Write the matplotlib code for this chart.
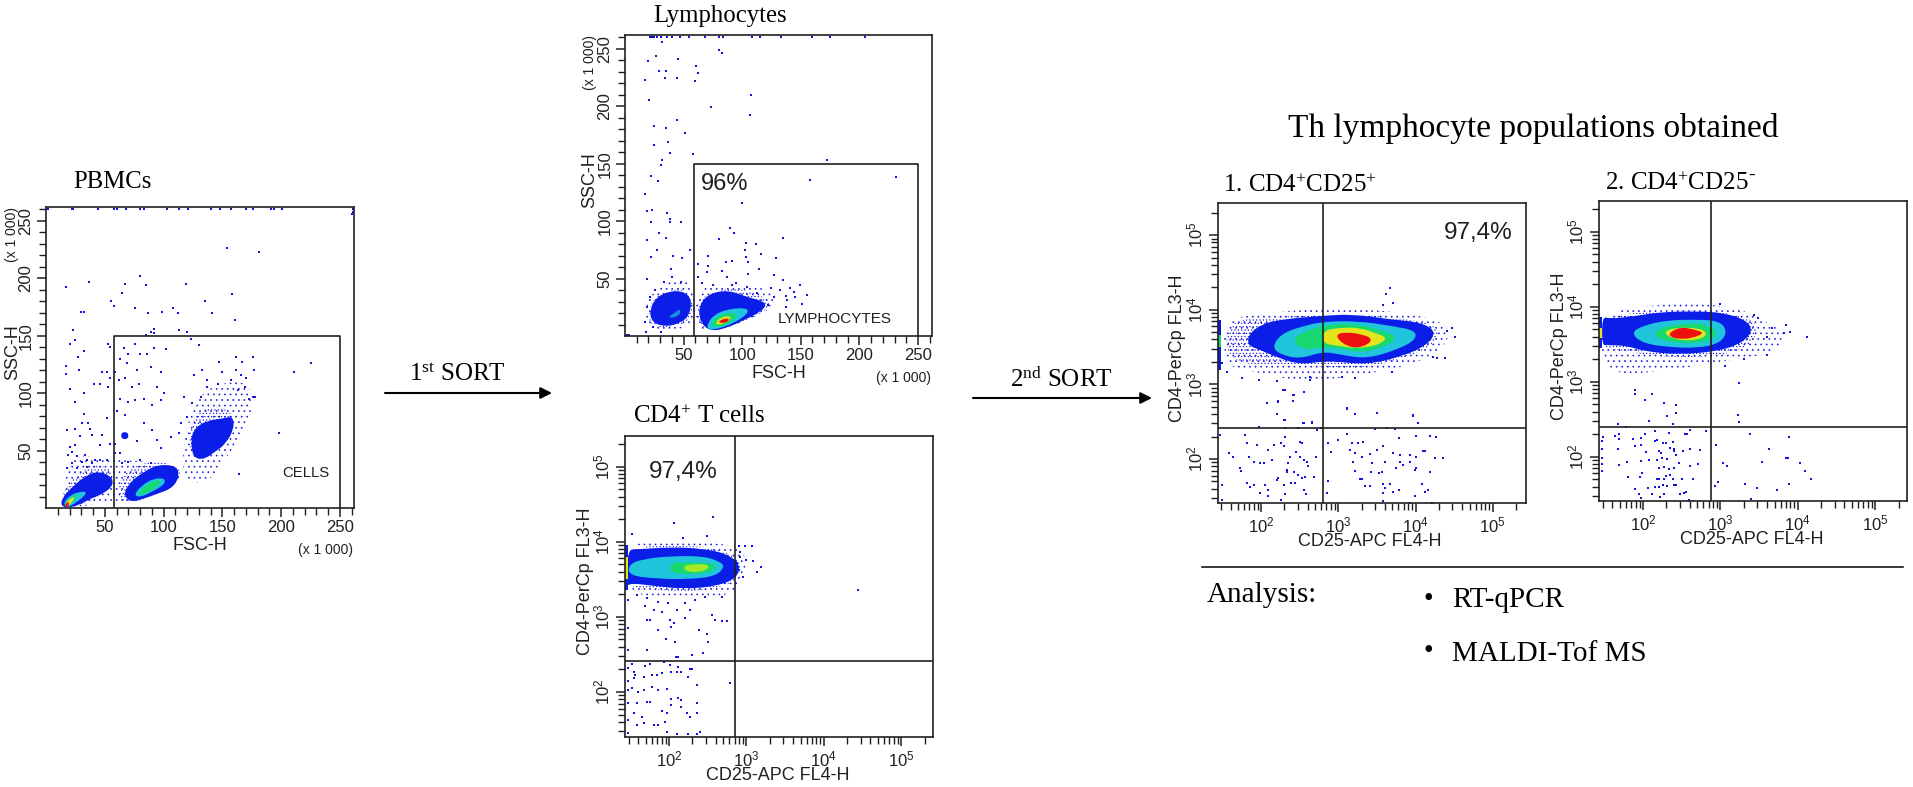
import numpy as np
import matplotlib
matplotlib.use('Agg')
import matplotlib.pyplot as plt
from matplotlib.path import Path
from matplotlib.patches import PathPatch
from matplotlib.ticker import FixedLocator, LogLocator, NullFormatter, FuncFormatter

W, H = 1913, 787
SANS = 'Liberation Sans'
SERIF = 'Liberation Serif'
DOT = '#1414e0'
COLORS = {'blue': '#0a1ee8', 'teal': '#1c8ce0', 'cyan': '#20c4dc', 'green': '#18d870',
          'lime': '#a8e828', 'yellow': '#e4e41c', 'red': '#ee1010'}

plt.rcParams['hatch.linewidth'] = 0.45

# Panel A, FSC-H / SSC-H in thousands
a_top = [2, 22, 23, 44, 58, 60, 68, 80, 83, 103, 113, 121, 140, 148, 157, 170, 176, 191, 194, 201]
a_dots = [(154, 226), (181, 223), (80, 202), (37, 197), (67.5, 195), (85, 194), (119, 195), (17, 192), (65, 187),
          (158, 186), (135, 180), (55, 180), (58, 176), (75.5, 174), (30, 171), (32, 171), (87, 170), (99, 171),
          (108, 174), (112.5, 170), (141.6, 170), (161, 164), (23, 155), (92, 156), (113, 155), (120, 153), (85, 151),
          (89, 153), (92, 152), (20.5, 143), (24.8, 146), (26.8, 131.6), (32, 137), (17, 124), (17, 117), (28, 120),
          (53, 143), (54.7, 140), (66, 139), (70, 134), (75.5, 143), (80, 134), (92, 139), (102, 138), (123, 147),
          (130, 142), (86, 134), (63, 130), (59, 118), (69, 126), (77.5, 120), (89, 123), (97.5, 118), (52, 118),
          (47.6, 118), (46, 108), (40.5, 108), (20.5, 104), (24.8, 92), (32, 100), (54.7, 113), (53, 105), (62, 111),
          (67.5, 113), (73, 105), (79, 108), (63, 95), (70, 92), (76, 94), (83, 95), (94.6, 105), (100, 100),
          (97.5, 94), (90, 90), (67.5, 81), (60, 84), (52, 78), (32, 82), (30.5, 74), (36, 74), (37.6, 69), (24.8, 69),
          (17.7, 68), (29, 63), (39, 63.5), (47.6, 63.5), (54.7, 56), (59, 56), (46, 55), (25, 55), (20.5, 53), (22, 49),
          (19, 46), (33, 46), (35, 42), (26, 45), (30.5, 40), (39, 39), (46, 42), (22, 39), (17.7, 34.5), (26, 34.5),
          (35, 36), (42, 42), (52, 42), (59, 47.5), (65, 39), (63, 47.5), (70, 40), (80, 42), (89, 39), (94.6, 59),
          (83, 73.6), (90, 68), (77.5, 58), (97.5, 52), (106, 62), (113, 65), (117, 97), (126, 116), (133, 120),
          (147, 127), (150, 118), (161.5, 131.6), (176, 131.6), (167, 127), (177, 120), (161.5, 120), (225.6, 126),
          (211, 118.6), (198.6, 65), (164, 30), (137, 111), (146, 108), (157, 111), (166, 116), (170, 113), (176, 97),
          (178, 97), (173, 95), (169, 105), (163, 103), (137, 105), (132, 97), (124.5, 91), (120, 79), (114.5, 73.6),
          (261, 258), (261, 260), (260, 256)]
a_halos = [[(116, 27), (117.5, 65), (129, 97), (146, 108), (170, 111), (177, 94), (170, 68), (152, 42), (140, 24), (126, 21)],
           [(16, 27), (22, 44.6), (37.6, 46), (52, 41.7), (74.6, 41.7), (94.6, 38.8), (114.5, 33), (114.5, 24.3),
            (89, 12.8), (74.6, 5.5), (54.7, 5.5), (29, 1.2), (14.8, 0)]]
a_dense = [[(121.7, 53), (123, 73.6), (134.6, 88), (154.5, 87), (160, 76.5), (157.4, 65), (143, 49), (131.6, 41.7), (124.5, 44.6)],
           [(62, 8), (62, 25), (75, 37), (95, 41), (113, 36), (115, 26), (100, 15), (85, 8), (72, 4)],
           [(12, 2), (16, 18), (30, 32), (42, 38), (56, 34), (58, 20), (45, 10), (30, 2)]]
a_levels = [('blue', [(12.5, 2), (14, 9), (21, 17), (31, 26), (41.9, 32), (54, 29), (58, 21), (50, 13), (37.6, 8), (29, 3), (19, 0)]),
            ('cyan', [(14.8, 4), (19, 9.9), (27.6, 14.2), (35.3, 14.2), (30.5, 8.4), (23.4, 3.2), (17.7, 0.3)]),
            ('green', [(15.4, 3.5), (20, 8.4), (27.6, 12.8), (25.6, 8.4), (20.5, 3.5), (17.1, 0.6)]),
            ('yellow', [(16.2, 4), (21, 8.4), (24.8, 9.9), (21.9, 4.6), (18.5, 1.2)]),
            ('red', [(15.5, 2), (19.5, 6.5), (19.5, 0.5)]),
            ('blue', [(65.5, 12), (72, 23), (83, 31.5), (96, 38), (112, 36.5), (113, 26), (107, 17), (95, 12.5), (83, 8), (72, 5)]),
            ('cyan', [(74.6, 11.3), (81.8, 20), (91.7, 25.8), (101.7, 25.8), (100.3, 20), (90.3, 14.2), (80.3, 9.3)]),
            ('green', [(76.9, 11.3), (83.8, 19.1), (93.2, 24.3), (98, 23.8), (94.6, 18.6), (86, 12.8)]),
            ('blue', [(123, 60), (127, 70), (137, 76), (151, 78), (159, 80), (160, 69), (153, 56), (144, 49), (134, 42), (125, 44)]),
            ('blue', [(64, 60), (64, 66), (70, 66), (70, 60)])]

# Panel B
b_top = [21, 23, 25, 27, 31, 36, 40, 47, 55, 68, 80, 84, 108, 115, 133, 160, 175, 205]
b_dots = [(31.3, 256), (80.6, 249), (82.6, 246), (26.5, 244), (45, 241), (19.4, 239), (60.4, 235), (62.7, 229), (29, 231),
          (34.8, 231), (34, 225), (44, 225), (60, 222), (17.4, 223), (107.7, 210), (20.8, 205), (73, 199), (107, 192),
          (44, 188), (25, 183), (35, 181), (51, 177), (37, 169), (25, 166), (38.5, 159), (58, 158), (32, 153), (30.5, 149),
          (22, 139), (28, 135), (17.4, 124), (18.5, 109), (23, 110), (35.6, 107), (38, 102), (22, 99), (38.5, 99), (48, 99),
          (29, 90), (35, 85), (172, 153), (158, 135.6), (231, 138), (99.7, 116), (90, 94), (93, 90), (80, 84), (103, 81),
          (112, 80), (135, 85), (102.5, 75), (116, 71), (71, 70), (55.6, 75), (48.4, 68), (40.7, 70), (27.6, 75), (22, 69),
          (18.5, 83.5), (35, 85), (18.5, 50), (39, 58), (62, 62.6), (71, 61), (86, 64), (103, 69), (129, 67.5), (70, 56),
          (82.6, 57), (105, 64), (91, 65), (114, 58), (127, 53), (62, 51.6), (87, 51), (105, 53.6), (95, 46), (135, 48.7),
          (149, 44), (141, 41.4), (155, 35.6), (151, 28), (145, 34), (138, 31), (132.5, 40), (125, 41.4), (137, 35),
          (144, 38.6), (127, 34), (137, 25.5), (122, 27), (112.6, 37), (104, 43), (91, 44), (75, 44), (65.5, 46), (40, 51.6),
          (48, 47), (33, 47), (25.6, 40), (21.4, 34), (19, 25.5), (17, 12.5), (17.7, 3.8), (31, 3.8), (24, 8), (1.4, 1), (3.4, 1)]
b_halos = [[(17, 19.7), (21, 35.6), (37, 48.7), (55.6, 50), (60, 34), (60, 8), (33, 5), (18.5, 8)],
           [(60, 8), (61, 43), (92.6, 46), (115, 43), (132.5, 34), (124, 22.6), (101, 12.5), (75.5, 3.8), (67, 3.8)]]
b_dense = [[(19, 12), (23, 33), (37, 40), (52, 41), (58, 30), (57, 14), (45, 9), (30, 7)],
           [(62, 8), (62, 30), (75, 39), (95, 42), (112, 37), (125, 30), (118, 20), (100, 12), (80, 5)]]
b_levels = [('blue', [(21, 22), (26, 33), (37, 39), (50, 39), (57, 32), (55, 18), (47, 11), (34, 8), (23, 12)]),
            ('teal', [(37, 16.8), (42.7, 20.3), (47, 24), (47, 18.3), (40, 15.4)]),
            ('blue', [(64, 12), (63, 27), (72, 37), (88, 40), (104, 34), (122, 29), (116, 21), (102, 14), (87, 7), (73, 4)]),
            ('cyan', [(70, 9.6), (75.5, 18.3), (88, 23.5), (104, 24.6), (105.4, 19.7), (92.6, 11), (78.3, 5.8), (71, 5.8)]),
            ('green', [(73, 10.4), (78.3, 16.8), (88.3, 20.6), (96.9, 19), (91, 11.6), (78.3, 7.2)]),
            ('yellow', [(77, 11.6), (82.6, 16.8), (91, 17.4), (88.3, 12.5), (79.8, 9.3)]),
            ('red', [(80, 13.5), (89, 16), (88, 12), (81, 11)])]

# Panel C, positions as log10 of CD25 / CD4
c_dots = [(2.9, 3.94), (2.98, 3.94), (3.07, 3.94), (2.92, 3.8), (3, 3.76), (3.09, 3.74), (3.19, 3.66), (3.13, 3.6), (2.9, 3.63),
          (2.96, 3.53), (4.44, 3.36), (2.88, 3.72), (2.92, 3.87), (2.57, 4.33), (2.06, 4.25), (1.52, 4.11), (2.49, 4.08),
          (2.18, 4.05), (1.47, 3.23), (1.58, 3.29), (1.71, 3.25), (1.86, 3.2), (1.99, 3.18), (2.21, 3.18), (2.34, 3.23),
          (2.47, 3.27), (2.68, 3.27), (1.69, 3.14), (1.8, 3.09), (1.91, 3.07), (2.1, 3.09), (2.27, 3.09), (2.21, 2.98),
          (2.55, 3.03), (2.59, 2.96), (2.68, 2.94), (2.75, 2.94), (1.71, 2.96), (1.75, 2.96), (2.01, 2.96), (2.06, 2.92),
          (1.47, 2.85), (1.86, 2.83), (2.03, 2.87), (2.38, 2.83), (2.49, 2.77), (1.96, 2.71), (2.08, 2.67), (2.5, 2.67),
          (1.72, 2.56), (1.47, 2.56), (2.44, 2.52), (2.09, 2.47), (2.12, 2.47), (2.29, 2.49),
          (1.52, 2.37), (1.47, 2.32), (1.54, 2.27), (1.69, 2.35), (1.75, 2.37), (1.93, 2.4), (2.01, 2.36), (2.12, 2.33),
          (2.27, 2.31), (2.29, 2.31), (1.56, 2.23), (1.67, 2.2), (1.78, 2.23), (1.84, 2.23), (1.91, 2.25), (2.03, 2.26),
          (2.1, 2.26), (2.16, 2.26), (2.25, 2.2), (1.54, 2.18), (1.47, 2.14), (2.36, 2.09), (2.79, 2.12), (1.52, 2.05),
          (1.47, 2.03), (1.6, 2), (1.67, 2.02), (1.78, 2.07), (1.86, 2.03), (1.97, 2.04), (1.71, 1.87), (1.75, 1.87),
          (1.47, 1.85), (1.58, 1.85), (2.03, 1.9), (2.12, 1.92), (2.16, 1.89), (2.03, 1.83), (2.16, 1.8), (2.36, 1.85),
          (1.91, 1.74), (1.97, 1.72), (2.23, 1.72), (1.47, 1.63), (1.58, 1.56), (1.67, 1.59), (1.8, 1.56), (1.86, 1.56),
          (1.95, 1.6), (1.54, 1.72), (2.36, 1.72), (2.27, 1.67), (1.47, 1.45), (1.97, 1.47), (2.1, 1.44), (2.25, 1.44),
          (2.36, 1.44), (2.4, 1.47), (1.65, 1.67)]
c_halos = [[(1.46, 3.99), (2.01, 4.03), (2.53, 3.99), (2.96, 3.93), (3.01, 3.59), (2.79, 3.27), (2.23, 3.23), (1.72, 3.27), (1.46, 3.36)]]
c_dense = [[(1.47, 3.4), (1.47, 3.93), (2.0, 3.95), (2.6, 3.93), (2.93, 3.75), (2.9, 3.5), (2.6, 3.37), (2.1, 3.33), (1.7, 3.38)]]
c_levels = [('blue', [(1.46, 3.4), (1.46, 3.9), (1.6, 3.9), (2.01, 3.93), (2.44, 3.91), (2.75, 3.84), (2.92, 3.7), (2.88, 3.52),
                      (2.62, 3.41), (2.18, 3.37), (1.75, 3.42), (1.5, 3.45)]),
            ('cyan', [(1.48, 3.7), (1.66, 3.77), (2.01, 3.81), (2.44, 3.81), (2.65, 3.74), (2.72, 3.67), (2.6, 3.54), (2.23, 3.5),
                      (1.84, 3.51), (1.48, 3.55)]),
            ('green', [(2.01, 3.72), (2.27, 3.73), (2.53, 3.72), (2.63, 3.67), (2.53, 3.59), (2.23, 3.56), (2.01, 3.6)]),
            ('lime', [(2.18, 3.69), (2.44, 3.71), (2.53, 3.67), (2.44, 3.6), (2.21, 3.6)])]
c_streak = [('blue', 3.36, 3.96), ('yellow', 3.5, 3.8)]

# Panel D
d_dots = [(1.56, 3.17), (1.49, 3.28), (1.75, 3.09), (1.97, 3.06), (2.2, 3.04), (2.31, 2.92), (2.42, 2.86), (2.55, 2.9), (2.41, 2.78),
          (2.22, 2.78), (2.07, 2.75), (2.2, 2.6), (2.3, 2.52), (2.55, 2.48), (2.66, 2.5), (3.11, 2.67), (3.22, 2.6), (3.5, 2.62),
          (3.97, 2.58), (4.03, 2.48), (1.97, 2.43), (2.31, 2.42), (2.48, 2.42), (2.72, 2.39), (2.78, 2.41), (3.47, 2.4), (3.63, 2.41),
          (3.73, 2.4), (1.47, 2.32), (1.79, 2.32), (1.81, 2.21), (1.95, 2.19), (1.58, 2.08), (1.63, 2.03), (1.73, 1.88), (1.74, 1.84),
          (1.84, 2.02), (1.91, 1.96), (1.98, 1.95), (2.04, 1.95), (2.09, 2.12), (2.16, 2.19), (2.14, 1.99), (2.25, 2.21), (2.31, 2.3),
          (2.29, 2.17), (2.37, 2.03), (2.45, 2.1), (2.5, 2.23), (2.53, 2.21), (2.5, 2.03), (2.55, 1.99), (2.59, 1.96), (2.61, 1.9),
          (2.35, 1.95), (2.34, 1.85), (2.42, 1.83), (2.48, 1.79), (2.53, 1.75), (2.57, 1.76), (2.22, 1.74), (2.2, 1.72), (2.33, 1.83),
          (2.29, 1.65), (2.38, 1.68), (2.44, 1.68), (2.55, 1.59), (2.58, 1.53), (2.31, 1.53), (2.09, 1.5), (2.09, 1.58), (2.05, 1.65),
          (1.9, 1.65), (1.81, 1.68), (1.86, 1.63), (1.99, 1.55), (2.25, 1.45), (1.49, 1.65), (1.49, 1.45), (2.68, 1.76), (2.71, 2.03),
          (2.87, 2.21), (3, 2.26), (3.11, 2.34), (3.17, 2.21), (3.26, 2.22), (3.32, 2.23), (3.15, 2.12), (3.22, 2.08), (3.3, 2.02),
          (3.41, 2.07), (3.5, 2.12), (3.58, 2.17), (2.91, 2.1), (2.87, 1.71), (2.85, 1.55), (3.19, 1.96), (3.22, 1.84), (3.43, 1.95),
          (3.42, 1.83), (3.52, 1.81), (3.56, 1.83), (3.6, 1.96), (3.71, 2.08), (3.8, 2.05), (3.8, 1.96), (3.93, 2.05), (4.01, 2.02),
          (3.93, 1.96), (3.84, 1.92), (3.75, 1.88), (3.58, 1.67), (3.67, 1.67), (3.6, 1.61), (3.71, 1.56), (3.78, 1.58), (3.28, 1.73),
          (3.3, 1.73), (3.34, 1.64), (3.41, 1.64), (3.58, 1.55), (3.58, 1.44), (3.99, 1.5), (3.93, 1.41), (4.21, 1.41), (4.08, 1.67),
          (4.12, 1.56), (4.16, 1.58), (4.01, 1.88), (3.99, 1.85), (4.19, 1.83), (4.25, 2.01), (4.36, 2.01), (4.27, 2.3), (4.19, 2.31),
          (4, 2.31), (3.78, 2.28), (4.1, 2.11), (4.12, 2.11), (3.67, 4.29), (3.62, 4.21), (3.71, 4.09), (3.58, 4.06), (4.51, 3.64),
          (4.47, 3.76), (4.41, 3.72), (4.38, 3.35), (4.28, 3.35), (4.22, 3.36), (2.41, 2.86), (2.08, 2.75), (2.22, 2.76), (2.28, 2.92),
          (2.63, 3.06), (2.63, 3.1), (3.05, 3.1), (3.22, 3.08), (3.69, 3.16), (3.11, 2.68), (3.22, 2.6), (3.5, 2.61), (3.97, 2.59),
          (4.03, 2.48), (2.66, 2.48), (2.54, 2.48), (2.31, 2.52)]
d_halos = [[(1.5, 3.86), (2, 3.95), (2.8, 4.02), (3.67, 3.99), (4.32, 3.86), (4.47, 3.66), (4.25, 3.39), (3.8, 3.22), (3.02, 3.08),
            (2.5, 3.03), (1.99, 3.16), (1.53, 3.22)]]
d_dense = [[(1.55, 3.3), (1.55, 3.86), (2.2, 3.9), (3, 3.96), (3.7, 3.9), (4.2, 3.82), (4.33, 3.68), (4.15, 3.47), (3.7, 3.3), (3.2, 3.2), (2.7, 3.25), (2.2, 3.25)]]
d_levels = [('blue', [(1.83, 3.66), (1.99, 3.8), (2.25, 3.87), (2.8, 3.92), (3.19, 3.94), (3.67, 3.87), (4.08, 3.83), (4.27, 3.7),
                      (4.14, 3.52), (3.84, 3.38), (3.37, 3.26), (2.85, 3.32), (2.5, 3.26), (2.16, 3.38), (1.99, 3.46), (1.83, 3.52)]),
            ('cyan', [(2.14, 3.5), (2.26, 3.68), (2.54, 3.78), (2.8, 3.84), (3.24, 3.85), (3.71, 3.78), (4.0, 3.72), (4.0, 3.6), (3.8, 3.48),
                      (3.37, 3.34), (3.02, 3.4), (2.8, 3.44), (2.5, 3.34), (2.25, 3.4)]),
            ('green', [(2.4, 3.59), (2.54, 3.7), (2.8, 3.79), (3.19, 3.82), (3.58, 3.72), (3.76, 3.63), (3.64, 3.52), (3.32, 3.42), (3.02, 3.48),
                       (2.8, 3.5), (2.54, 3.46)]),
            ('yellow', [(2.8, 3.72), (3.02, 3.76), (3.28, 3.76), (3.5, 3.68), (3.64, 3.62), (3.5, 3.52), (3.24, 3.48), (2.96, 3.52), (2.8, 3.55)]),
            ('red', [(2.96, 3.67), (3.11, 3.7), (3.3, 3.67), (3.43, 3.62), (3.4, 3.54), (3.22, 3.48), (3.04, 3.55)])]
d_streak = [('blue', 3.19, 3.86), ('green', 3.5, 3.66)]

# Panel E
e_dots = [(1.48, 2.27), (1.47, 2.21), (1.47, 2.1), (1.47, 1.99), (1.47, 1.9), (1.47, 1.81), (1.64, 2.28), (1.69, 2.3), (1.69, 2.24),
          (1.68, 2.11), (1.79, 1.93), (1.69, 1.89), (1.8, 1.73), (1.87, 2.24), (1.89, 2.15), (1.97, 2.25), (2.03, 2.3), (1.97, 2.16),
          (2.04, 2.06), (1.97, 1.94), (2.07, 1.96), (1.99, 1.79), (1.96, 1.73), (1.89, 1.57), (2.06, 1.59), (1.95, 1.5), (1.97, 1.45),
          (2.12, 1.5), (2.16, 1.6), (2.2, 1.6), (2.26, 1.62), (2.27, 1.5), (2.22, 1.47), (2.18, 1.7), (2.2, 1.7), (2.27, 1.7), (2.29, 1.75),
          (2.35, 1.76), (2.38, 1.7), (2.4, 1.63), (2.43, 1.62), (2.31, 1.61), (2.48, 1.5), (2.53, 1.52), (2.56, 1.53), (2.59, 1.43),
          (2.5, 1.71), (2.64, 1.7), (2.61, 1.88), (2.71, 1.91), (2.46, 1.92), (2.4, 1.85), (2.34, 1.84), (2.27, 1.86), (2.2, 1.85),
          (2.18, 1.96), (2.31, 1.97), (2.2, 2.08), (2.23, 2.05), (2.25, 1.99), (2.4, 2.08), (2.42, 2.03), (2.52, 2.08), (2.61, 2.11),
          (2.73, 2.09), (2.35, 2.12), (2.4, 2.11), (2.15, 2.34), (2.18, 2.23), (2.16, 2.21), (2.26, 2.19), (2.29, 2.19), (2.38, 2.2),
          (2.33, 2.32), (2.54, 2.3), (2.57, 2.3), (2.61, 2.36), (2.81, 2.35), (2.31, 2.55), (2.42, 2.58), (2.08, 2.48), (2.38, 2.44),
          (1.68, 2.44), (1.78, 2.39), (2.94, 2.16), (3.03, 1.92), (3.09, 1.88), (2.93, 1.61), (2.97, 1.66), (3.32, 1.64), (3.47, 1.59),
          (3.4, 1.44), (3.38, 2.3), (3.63, 2.1), (3.54, 1.93), (3.84, 1.99), (3.87, 1.99), (4.03, 1.92), (4.09, 1.81), (4.17, 1.7),
          (3.89, 2.26), (3.89, 1.64), (3.73, 1.56), (3.22, 2.56), (3.24, 2.46), (4.12, 3.59), (3.9, 3.66), (3.84, 3.75), (3.82, 3.65),
          (3.67, 3.72), (3.6, 3.6), (3.6, 3.36), (3.43, 3.89), (3.49, 3.85), (3.3, 3.3), (3.06, 3.21), (3, 4.04), (3.24, 2.98),
          (2.27, 2.72), (2.42, 2.69), (2.03, 2.76), (2.11, 2.83), (1.9, 2.89), (1.9, 2.83)]
e_halos = [[(1.44, 3.93), (2.22, 4.03), (2.74, 4.05), (3.32, 3.96), (3.64, 3.76), (3.9, 3.63), (3.64, 3.36), (3, 3.27), (2.22, 3.13), (1.48, 3.09)]]
e_dense = [[(1.47, 3.45), (1.47, 3.87), (2.2, 3.95), (2.9, 3.95), (3.4, 3.85), (3.5, 3.68), (3.35, 3.45), (2.9, 3.33), (2.2, 3.33), (1.7, 3.42)]]
e_levels = [('blue', [(1.47, 3.87), (1.57, 3.84), (1.87, 3.87), (2.22, 3.93), (2.7, 3.94), (3.03, 3.92), (3.32, 3.83), (3.42, 3.69), (3.3, 3.53),
                      (3, 3.41), (2.44, 3.36), (2, 3.41), (1.79, 3.48), (1.53, 3.49), (1.47, 3.49)]),
            ('cyan', [(1.84, 3.65), (2, 3.75), (2.31, 3.82), (2.7, 3.83), (2.99, 3.81), (3.09, 3.67), (2.99, 3.51), (2.7, 3.45), (2.35, 3.46), (2, 3.51)]),
            ('green', [(2.13, 3.65), (2.31, 3.75), (2.7, 3.79), (2.91, 3.72), (2.96, 3.63), (2.83, 3.53), (2.48, 3.51), (2.22, 3.56)]),
            ('yellow', [(2.25, 3.65), (2.39, 3.72), (2.7, 3.72), (2.84, 3.65), (2.74, 3.56), (2.44, 3.55)]),
            ('red', [(2.33, 3.65), (2.48, 3.73), (2.65, 3.7), (2.8, 3.65), (2.63, 3.58), (2.48, 3.57), (2.36, 3.59)])]
e_streak = [('blue', 3.45, 3.87), ('yellow', 3.58, 3.72)]

lin_ticks = [50, 100, 150, 200, 250]
lin_minor = [10, 20, 30, 40, 60, 70, 80, 90, 110, 120, 130, 140, 160, 170, 180, 190, 210, 220, 230, 240, 260]
a_gate = [58, 250, 150]
b_gate = [59, 250, 150]


def px_axes(left, top, right, bottom):
    return fig.add_axes([left / W, 1 - bottom / H, (right - left) / W, (bottom - top) / H])


def label(x, y, s, size, family=SANS, rotation=0, ha='center', color='#202020'):
    fig.text(x / W, 1 - y / H, s, fontsize=size, family=family, rotation=rotation, ha=ha, va='center', color=color)


def blob_path(outline, conv):
    # closed quadratic curve through the midpoints, the listed points act as controls
    pts = np.array(outline, dtype=float)
    mids = (pts + np.roll(pts, -1, axis=0)) / 2
    verts = [mids[-1]]
    codes = [Path.MOVETO]
    for p, m in zip(pts, mids):
        verts += [p, m]
        codes += [Path.CURVE3, Path.CURVE3]
    verts = np.array(verts)
    return Path(np.column_stack([conv(verts[:, 0]), conv(verts[:, 1])]), codes)


def draw_cloud(ax, halos, dense, levels, dots, logged):
    conv = (lambda v: 10.0 ** np.asarray(v)) if logged else np.asarray
    for outline in halos:
        ax.add_patch(PathPatch(blob_path(outline, conv), facecolor='none', edgecolor=DOT, hatch='...', lw=0, zorder=1))
    for outline in dense:
        ax.add_patch(PathPatch(blob_path(outline, conv), facecolor='none', edgecolor=DOT, hatch='.....', lw=0, zorder=1))
    xs, ys = zip(*dots)
    ax.scatter(conv(xs), conv(ys), s=1.1, marker='s', color=DOT, lw=0, zorder=1)
    for name, outline in levels:
        ax.add_patch(PathPatch(blob_path(outline, conv), facecolor=COLORS[name], lw=0, zorder=2))


def style(ax):
    for sp in ax.spines.values():
        sp.set_linewidth(1.2)
        sp.set_color('#202020')
    ax.tick_params(axis='both', which='major', length=6.5, width=1.1, color='#202020', pad=2.5,
                   labelsize=12, labelcolor='#202020')
    ax.tick_params(axis='both', which='minor', length=5, width=1.0, color='#202020')
    for t in ax.get_xticklabels() + ax.get_yticklabels():
        t.set_family(SANS)
    for t in ax.get_yticklabels():
        t.set_rotation(90)
        t.set_va('center')


def linear_panel(rect, halos, dense, levels, dots, top_row, gate):
    ax = px_axes(*rect)
    ax.set_xlim(0, 262)
    ax.set_ylim(0, 262)
    draw_cloud(ax, halos, dense, levels, dots + [(v, 260) for v in top_row], False)
    ax.xaxis.set_major_locator(FixedLocator(lin_ticks))
    ax.yaxis.set_major_locator(FixedLocator(lin_ticks))
    ax.xaxis.set_minor_locator(FixedLocator(lin_minor))
    ax.yaxis.set_minor_locator(FixedLocator(lin_minor))
    style(ax)
    ax.plot([gate[0], gate[0], gate[1], gate[1]], [0, gate[2], gate[2], 0], color='#202020', lw=1.2, zorder=3)
    return ax


def log_panel(rect, xlim, ylim, halos, dense, levels, dots, streak, vline, hline):
    ax = px_axes(*rect)
    ax.set_xscale('log')
    ax.set_yscale('log')
    ax.set_xlim(10 ** xlim[0], 10 ** xlim[1])
    ax.set_ylim(10 ** ylim[0], 10 ** ylim[1])
    draw_cloud(ax, halos, dense, levels, dots, True)
    # bright strip of events piled on the left edge
    for name, low, high in streak:
        ax.fill_betweenx([10 ** low, 10 ** high], 10 ** xlim[0], 10 ** (xlim[0] + 0.045), color=COLORS[name], lw=0, zorder=2.5)
    fmt = FuncFormatter(lambda v, p: r'$\mathregular{10^{%d}}$' % round(np.log10(v)))
    for axis in (ax.xaxis, ax.yaxis):
        axis.set_major_locator(FixedLocator([100, 1000, 10000, 100000]))
        axis.set_major_formatter(fmt)
        axis.set_minor_locator(LogLocator(base=10, subs=(2, 3, 4, 5, 6, 7, 8, 9), numticks=12))
        axis.set_minor_formatter(NullFormatter())
    style(ax)
    ax.axvline(10 ** vline, color='#202020', lw=1.2, zorder=3)
    ax.axhline(10 ** hline, color='#202020', lw=1.2, zorder=3)
    return ax


fig = plt.figure(figsize=(W / 100, H / 100), dpi=100)

linear_panel((46, 207, 354, 508), a_halos, a_dense, a_levels, a_dots, a_top, a_gate)
linear_panel((625, 35, 932, 336), b_halos, b_dense, b_levels, b_dots, b_top, b_gate)
log_panel((625, 436, 933, 737), (1.43, 5.41), (1.4, 5.41), c_halos, c_dense, c_levels, c_dots, c_streak, 2.854, 2.413)
log_panel((1218, 203, 1526, 503), (1.44, 5.43), (1.41, 5.43), d_halos, d_dense, d_levels, d_dots, d_streak, 2.80, 2.41)
log_panel((1599, 201, 1907, 501), (1.43, 5.41), (1.41, 5.41), e_halos, e_dense, e_levels, e_dots, e_streak, 2.88, 2.40)

# axis names
label(200, 546, 'FSC-H', 13)
label(13, 352, 'SSC-H', 13, rotation=90)
label(779, 373, 'FSC-H', 13)
label(590, 180, 'SSC-H', 13, rotation=90)
label(778, 775, 'CD25-APC FL4-H', 13)
label(585, 581, 'CD4-PerCp FL3-H', 13, rotation=90)
label(1370, 541, 'CD25-APC FL4-H', 13)
label(1178, 348, 'CD4-PerCp FL3-H', 13, rotation=90)
label(1752, 539, 'CD25-APC FL4-H', 13)
label(1560, 346, 'CD4-PerCp FL3-H', 13, rotation=90)
label(326, 550, '(x 1 000)', 10)
label(12, 235, '(x 1 000)', 10, rotation=90)
label(904, 378, '(x 1 000)', 10)
label(590, 63, '(x 1 000)', 10, rotation=90)

# labels inside the plots
label(306, 473, 'CELLS', 10.7)
label(835, 319, 'LYMPHOCYTES', 11)
label(725, 184, '96%', 17)
label(683, 472, '97,4%', 17.5)
label(1478, 233, '97,4%', 17.5)

# headings
label(73, 182, 'PBMCs', 17.8, SERIF, ha='left', color='black')
label(653, 16, 'Lymphocytes', 17.8, SERIF, ha='left', color='black')
label(633, 417, r'CD4$\mathregular{^{+}}$ T cells', 18, SERIF, ha='left', color='black')
label(1223, 186, r'1. CD4$\mathregular{^{+}}$CD25$\mathregular{^{+}}$', 18, SERIF, ha='left', color='black')
label(1605, 184, r'2. CD4$\mathregular{^{+}}$CD25', 18, SERIF, ha='left', color='black')
label(1752, 175, '-', 14, SERIF, color='black')
label(1533, 128, 'Th lymphocyte populations obtained', 24, SERIF, color='black')
label(457, 375, r'1$\mathregular{^{st}}$ SORT', 18, SERIF, color='black')
label(1061, 380, r'2$\mathregular{^{nd}}$ SORT', 18, SERIF, color='black')
label(1207, 595, 'Analysis:', 21, SERIF, ha='left', color='black')
label(1452, 600, 'RT-qPCR', 21, SERIF, ha='left', color='black')
label(1452, 654, 'MALDI-Tof MS', 21, SERIF, ha='left', color='black')
label(1428, 599, '\u2022', 20, SERIF, color='black')
label(1428, 652, '\u2022', 20, SERIF, color='black')

# arrows and the rule under the right panels
overlay = fig.add_axes([0, 0, 1, 1], facecolor='none', zorder=5)
overlay.set_xlim(0, W)
overlay.set_ylim(H, 0)
overlay.axis('off')
for x0, x1, y in [(385, 552, 393), (973, 1152, 398)]:
    overlay.annotate('', xy=(x1, y), xytext=(x0, y),
                     arrowprops=dict(arrowstyle='-|>', color='black', lw=1.5, mutation_scale=17, shrinkA=0, shrinkB=0))
overlay.plot([1202, 1903], [567, 567], color='black', lw=1.1)

fig.savefig('out.png', dpi=100, facecolor='white')
